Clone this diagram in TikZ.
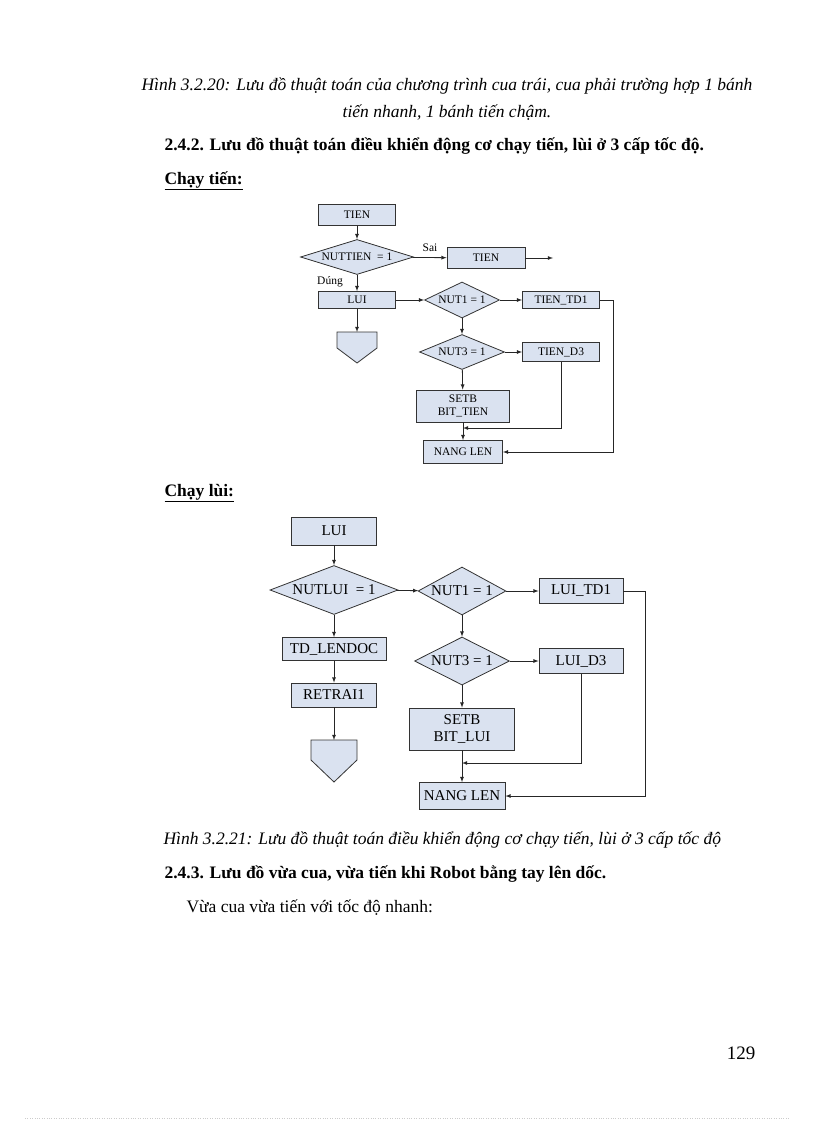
\documentclass[tikz,border=0pt]{standalone}
\usepackage{fontspec}
\setmainfont{Liberation Serif}
\usetikzlibrary{positioning,arrows,shapes.geometric}
\definecolor{nen}{RGB}{218,226,240}
\newcommand{\cochu}{\fontsize{17.5}{19}\selectfont}
\tikzset{
>=latex,
hop/.style={rectangle, draw=black!80, fill=nen, thick, inner sep=1pt},
thoi/.style={diamond, draw=black!80, fill=nen, thick, aspect=2.6, inner sep=0pt},
line/.style={draw, thick, black!85, ->},
merge/.style={draw, thick, black!85, -},
nho/.style={font=\fontsize{11.5}{12.5}\selectfont},
lon/.style={font=\fontsize{15}{16.5}\selectfont},
}
\begin{document}
\begin{tikzpicture}[x=1pt,y=-1pt]
\useasboundingbox (0,0) rectangle (816,1123);

% page text
\node[font=\cochu\itshape] (cap1) at (447,86) {Hình 3.2.20: Lưu đồ thuật toán của chương trình cua trái, cua phải trường hợp 1 bánh};
\node[font=\cochu\itshape] (cap1b) at (447,113) {tiến nhanh, 1 bánh tiến chậm.};
\node[anchor=west, font=\cochu\bfseries] (sec1) at (161,146) {2.4.2. Lưu đồ thuật toán điều khiển động cơ chạy tiến, lùi ở 3 cấp tốc độ.};
\node[anchor=west, font=\cochu\bfseries] (tien) at (161,181) {\underline{Chạy tiến:}};
\node[anchor=west, font=\cochu\bfseries] (lui) at (161,493) {\underline{Chạy lùi:}};

% chay tien
\node[hop, nho, minimum width=77, minimum height=21] (t1) at (357,215) {TIEN};
\node[thoi, nho, minimum width=113, minimum height=35] (t2) at (357,257) {NUTTIEN\ \ = 1};
\node[hop, nho, minimum width=78, minimum height=21] (t3) at (486,258) {TIEN};
\coordinate (t3e) at (553,258);
\node[hop, nho, minimum width=77, minimum height=17] (t4) at (357,300) {LUI};
\coordinate (t5) at (357,332);
\node[thoi, nho, minimum width=75, minimum height=36] (t6) at (462,300) {NUT1 = 1};
\node[hop, nho, minimum width=77, minimum height=17] (t7) at (561,300) {TIEN\_TD1};
\node[thoi, nho, minimum width=85, minimum height=35] (t8) at (462,352) {NUT3 = 1};
\node[hop, nho, minimum width=77, minimum height=19] (t9) at (561,352) {TIEN\_D3};
\node[hop, nho, minimum width=93, minimum height=32, align=center] (t10) at (463,406) {SETB\\BIT\_TIEN};
\node[hop, nho, minimum width=79, minimum height=23] (t11) at (463,452) {NANG LEN};
\coordinate (t12) at (463,428);
\node[nho] (sai) at (430,248) {Sai};
\node[nho] (dung) at (330,282) {Dúng};

\path[line] (t1) -- (t2);
\path[line] (t2) -- (t3);
\path[line] (t3) -- (t3e);
\path[line] (t2) -- (t4);
\path[line] (t4) -- (t5);
\draw[thick, black!80, fill=nen] (t5) ++(-20,0) -- ++(40,0) -- ++(0,16) -- ++(-20,15) -- ++(-20,-15) -- cycle;
\path[line] (t4) -- (t6);
\path[line] (t6) -- (t7);
\path[line] (t6) -- (t8);
\path[line] (t8) -- (t9);
\path[line] (t8) -- (t10);
\path[line] (t10) -- (t11);
\path[line] (t9.south) |- (t12);
\path[line] (t7.east) -- ++(13,0) |- (t11.east);

% chay lui
\node[hop, lon, minimum width=85, minimum height=28] (l1) at (334,531) {LUI};
\node[thoi, lon, minimum width=128, minimum height=49] (l2) at (334,590) {NUTLUI\ \ = 1};
\node[thoi, lon, minimum width=85, minimum height=48] (l3) at (462,591) {NUT1 = 1};
\node[hop, lon, minimum width=84, minimum height=25] (l4) at (581,591) {LUI\_TD1};
\node[hop, lon, minimum width=104, minimum height=23] (l5) at (334,649) {TD\_LENDOC};
\node[hop, lon, minimum width=85, minimum height=24] (l6) at (334,695) {RETRAI1};
\coordinate (l7) at (334,740);
\node[thoi, lon, minimum width=95, minimum height=48] (l8) at (462,661) {NUT3 = 1};
\node[hop, lon, minimum width=84, minimum height=25] (l9) at (581,661) {LUI\_D3};
\node[hop, lon, minimum width=105, minimum height=42, align=center] (l10) at (462,729) {SETB\\BIT\_LUI};
\node[hop, lon, minimum width=86, minimum height=27] (l11) at (462,796) {NANG LEN};
\coordinate (l12) at (462,763);

\path[line] (l1) -- (l2);
\path[line] (l2) -- (l3);
\path[line] (l3) -- (l4);
\path[line] (l2) -- (l5);
\path[line] (l5) -- (l6);
\path[line] (l6) -- (l7);
\draw[thick, black!80, fill=nen] (l7) ++(-23,0) -- ++(46,0) -- ++(0,20) -- ++(-23,22) -- ++(-23,-22) -- cycle;
\path[line] (l3) -- (l8);
\path[line] (l8) -- (l9);
\path[line] (l8) -- (l10);
\path[line] (l10) -- (l11);
\path[line] (l9.south) |- (l12);
\path[line] (l4.east) -- ++(22,0) |- (l11.east);

% page text
\node[anchor=west, font=\cochu\itshape] (cap2) at (160,840) {Hình 3.2.21: Lưu đồ thuật toán điều khiển động cơ chạy tiến, lùi ở 3 cấp tốc độ};
\node[anchor=west, font=\cochu\bfseries] (sec2) at (161,874) {2.4.3. Lưu đồ vừa cua, vừa tiến khi Robot bằng tay lên dốc.};
\node[anchor=west, font=\cochu] (txt) at (183,908) {Vừa cua vừa tiến với tốc độ nhanh:};
\node[anchor=east, font=\fontsize{19}{21}\selectfont] (trang) at (759,1053) {129};
\draw[gray!40, dotted] (25,1118) -- (790,1118);
\end{tikzpicture}
\end{document}
